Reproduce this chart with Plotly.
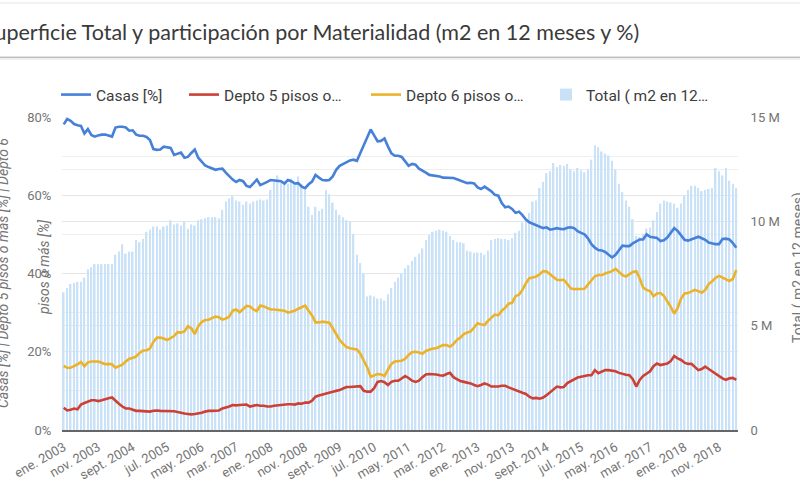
import pandas as pd
import plotly.graph_objects as go

# ---------------- data ----------------
months = [d.strftime("%Y-%m") for d in pd.date_range("2003-01-01", periods=196, freq="MS")]

tick_labels = ["ene. 2003", "nov. 2003", "sept. 2004", "jul. 2005", "may. 2006", "mar. 2007",
               "ene. 2008", "nov. 2008", "sept. 2009", "jul. 2010", "may. 2011", "mar. 2012",
               "ene. 2013", "nov. 2013", "sept. 2014", "jul. 2015", "may. 2016", "mar. 2017",
               "ene. 2018", "nov. 2018"]

casas = [78.1, 79.5, 79.0, 78.2, 77.9, 77.7, 75.8, 76.9, 75.4, 75.0,
         75.3, 75.5, 75.5, 75.3, 75.0, 77.3, 77.5, 77.5, 77.3, 76.5,
         76.6, 75.5, 75.2, 75.2, 74.9, 74.1, 71.8, 71.6, 71.7, 72.4,
         72.3, 72.1, 70.3, 70.7, 70.9, 69.6, 69.8, 70.8, 71.7, 69.6,
         68.5, 67.6, 67.2, 66.8, 66.5, 66.7, 66.8, 65.8, 64.8, 64.0,
         63.4, 63.9, 63.6, 62.4, 62.1, 63.2, 64.0, 62.6, 62.9, 63.4,
         63.9, 63.8, 63.7, 63.6, 63.0, 63.9, 63.6, 63.0, 63.1, 62.2,
         61.8, 62.8, 63.5, 65.2, 64.5, 63.9, 63.8, 63.9, 64.8, 66.5,
         67.5, 68.0, 68.6, 68.9, 69.1, 68.8, 70.8, 72.9, 75.0, 76.8,
         75.3, 73.8, 73.9, 74.5, 72.5, 70.7, 70.1, 70.1, 69.8, 68.5,
         67.5, 68.0, 67.8, 66.8, 66.4, 65.8, 65.2, 65.1, 65.0, 64.8,
         64.5, 64.5, 64.4, 64.4, 64.1, 63.8, 63.5, 63.1, 63.2, 63.0,
         62.0, 61.6, 62.2, 61.6, 61.0, 60.1, 59.9, 58.0, 56.9, 57.1,
         56.5, 55.5, 55.8, 54.9, 53.8, 53.1, 52.7, 52.4, 51.8, 51.6,
         51.8, 51.2, 51.4, 51.6, 51.4, 51.3, 51.7, 51.8, 51.6, 50.8,
         50.4, 50.0, 49.0, 47.5, 46.6, 46.0, 45.9, 45.5, 44.8, 44.1,
         44.8, 46.0, 47.1, 47.0, 47.0, 47.7, 48.3, 48.7, 48.7, 50.0,
         49.4, 49.2, 49.1, 48.3, 48.5, 49.2, 50.5, 51.6, 50.9, 49.8,
         48.6, 48.4, 48.7, 49.1, 49.4, 49.0, 48.6, 47.9, 47.6, 47.5,
         47.5, 48.8, 48.9, 48.7, 47.8, 46.6]

depto5 = [5.7, 5.0, 5.2, 5.5, 5.3, 6.5, 6.9, 7.2, 7.6, 7.6,
          7.4, 7.6, 7.9, 8.1, 8.3, 7.4, 6.7, 6.0, 5.5, 5.5,
          5.1, 4.9, 4.9, 4.8, 4.8, 4.7, 4.9, 5.0, 4.9, 4.9,
          4.9, 4.8, 4.8, 4.6, 4.3, 4.2, 4.1, 4.0, 4.1, 4.2,
          4.4, 4.7, 4.9, 4.9, 5.0, 5.0, 5.5, 5.7, 6.0, 6.4,
          6.3, 6.4, 6.5, 6.5, 6.0, 6.2, 6.4, 6.2, 6.2, 6.0,
          6.0, 6.2, 6.3, 6.4, 6.6, 6.6, 6.6, 6.5, 6.8, 6.7,
          7.0, 7.0, 7.5, 8.5, 8.8, 9.1, 9.4, 9.6, 9.8, 10.0,
          10.2, 10.6, 11.0, 11.0, 11.1, 11.1, 11.2, 10.0, 9.8, 9.8,
          10.7, 12.3, 12.5, 12.2, 11.5, 12.3, 12.6, 12.6, 13.3, 13.8,
          13.3, 12.6, 12.3, 12.6, 13.5, 14.2, 14.3, 14.3, 14.2, 14.0,
          13.9, 14.3, 14.6, 13.5, 12.9, 12.5, 12.3, 12.1, 11.9, 11.5,
          11.2, 11.5, 11.9, 11.6, 11.1, 11.1, 11.1, 11.3, 11.3, 10.9,
          10.5, 10.1, 9.9, 9.5, 9.2, 8.5, 8.1, 8.2, 8.0, 8.3,
          8.9, 9.7, 10.3, 11.1, 10.9, 11.0, 12.0, 12.5, 12.8, 13.4,
          13.6, 13.8, 14.0, 14.0, 15.3, 14.5, 15.0, 15.3, 15.3, 15.2,
          15.0, 14.6, 14.3, 14.1, 14.0, 13.0, 11.1, 12.8, 13.8, 14.5,
          15.0, 16.3, 17.0, 16.6, 16.8, 17.0, 17.6, 18.9, 18.3, 17.9,
          17.2, 16.9, 16.9, 16.0, 15.3, 15.6, 16.2, 15.6, 15.0, 14.3,
          13.6, 13.2, 12.8, 13.2, 13.3, 12.8]

depto6 = [16.4, 15.9, 15.9, 16.3, 16.8, 17.4, 16.3, 17.3, 17.5, 17.5,
          17.5, 17.2, 16.8, 16.9, 16.8, 15.9, 16.2, 16.7, 17.5, 18.2,
          18.4, 18.8, 19.7, 20.3, 20.4, 20.8, 22.5, 23.6, 23.6, 23.4,
          23.0, 23.5, 24.0, 25.0, 24.9, 25.2, 26.5, 26.0, 24.5, 26.5,
          27.6, 28.1, 28.2, 28.6, 29.0, 28.8, 28.2, 28.5, 29.0, 30.5,
          30.8, 30.1, 30.8, 31.7, 31.6, 30.8, 30.4, 31.8, 31.6, 31.2,
          30.8, 30.8, 30.7, 30.7, 30.5, 30.0, 30.2, 30.5, 31.0, 31.3,
          31.8, 30.5, 29.3, 27.5, 27.5, 27.7, 27.6, 27.4, 26.0, 24.3,
          23.0, 22.0, 21.2, 20.9, 20.7, 20.6, 19.5, 17.8, 16.0, 13.6,
          13.9, 14.3, 14.2, 13.8, 15.4, 16.9, 17.5, 17.6, 17.7, 18.2,
          19.2, 19.9, 20.0, 19.8, 19.5, 20.2, 20.6, 20.8, 20.9, 21.4,
          21.7, 21.7, 21.3, 22.0, 23.0, 23.6, 24.5, 24.9, 25.2, 26.2,
          27.3, 27.0, 26.8, 27.9, 28.6, 29.5, 29.3, 30.5, 31.2, 32.3,
          32.5, 34.2, 34.6, 35.8, 37.5, 38.8, 39.0, 39.2, 39.8, 40.6,
          40.5, 39.8, 39.2, 38.4, 38.3, 38.4, 37.3, 36.2, 36.0, 36.0,
          36.0, 36.1, 37.2, 38.3, 39.3, 39.6, 39.6, 40.0, 40.3, 40.6,
          41.2, 40.4, 39.6, 39.2, 39.7, 40.4, 40.6, 38.8, 36.4, 35.8,
          35.5, 34.2, 34.9, 35.0, 34.3, 33.0, 31.5, 29.7, 31.2, 33.6,
          34.9, 35.0, 35.3, 35.8, 35.5, 35.1, 35.8, 37.3, 38.0, 38.9,
          39.4, 39.0, 38.4, 38.1, 38.6, 40.9]

total_m = [6.6, 6.8, 7.0, 7.05, 7.1, 7.1, 7.3, 7.7, 7.8, 7.95,
           7.95, 7.95, 7.95, 7.95, 7.95, 8.4, 8.55, 8.9, 8.45, 8.55,
           8.55, 9.1, 9.0, 9.15, 9.5, 9.6, 9.75, 9.75, 9.6, 9.75,
           9.8, 10.05, 9.85, 9.9, 9.8, 10.0, 9.65, 9.85, 9.8, 10.05,
           10.1, 10.15, 10.2, 10.2, 10.2, 10.15, 10.55, 10.95, 11.1, 11.2,
           11.0, 10.95, 10.8, 10.95, 10.85, 10.95, 11.0, 11.05, 11.0, 11.05,
           11.5, 11.9, 12.2, 11.85, 11.85, 11.8, 12.05, 11.85, 12.15, 11.8,
           11.5, 10.7, 10.3, 10.7, 10.5, 10.6, 11.5, 11.3, 10.9, 10.55,
           10.3, 10.2, 10.05, 10.0, 9.4, 8.4, 8.0, 7.5, 6.4, 6.45,
           6.4, 6.3, 6.3, 6.2, 6.5, 6.8, 7.1, 7.3, 7.5, 7.75,
           7.9, 8.1, 8.3, 8.45, 8.7, 9.1, 9.35, 9.5, 9.55, 9.6,
           9.55, 9.5, 9.3, 9.1, 9.0, 9.0, 8.95, 8.6, 8.55, 8.5,
           8.5, 8.5, 8.4, 8.6, 9.1, 9.15, 9.2, 9.15, 9.15, 9.1,
           9.2, 9.45, 9.55, 9.95, 10.1, 10.4, 10.95, 11.0, 11.6, 11.9,
           12.3, 12.4, 12.8, 12.6, 12.7, 12.65, 12.75, 12.5, 12.4, 12.55,
           12.45, 12.35, 12.5, 12.95, 13.65, 13.55, 13.35, 13.25, 13.15, 12.9,
           12.5, 11.8, 11.4, 11.0, 10.7, 10.1, 9.3, 9.25, 9.4, 9.65,
           9.7, 10.05, 10.45, 10.85, 11.0, 10.95, 10.9, 10.85, 10.65, 10.85,
           11.25, 11.5, 11.7, 11.7, 11.6, 11.45, 11.5, 11.55, 11.6, 12.55,
           12.4, 12.2, 12.55, 11.95, 11.8, 11.6]

# ---------------- layout helpers ----------------
PL, PR, PT, PB = 62, 738, 117, 430
W, H = 800, 500


def px_x(px):
    return (px - PL) / (PR - PL)


def px_y(py):
    return (PB - py) / (PB - PT)


FONT = "Roboto"
GRAY = "#757575"
LEG_FONT = dict(family=FONT, size=15.5, color="#3c3c3c")


def legend_at(px):
    return dict(orientation="h", x=px_x(px), xanchor="left", y=px_y(78), yanchor="top",
                font=LEG_FONT, bgcolor="rgba(0,0,0,0)")


fig = go.Figure()

# lines live on the overlaying axis (drawn above the bars)
fig.add_trace(go.Scatter(
    x=months, y=[v / 100 for v in casas], name="Casas [%]", mode="lines",
    line=dict(color="#4680d8", width=2.6), yaxis="y2", legend="legend",
))
fig.add_trace(go.Scatter(
    x=months, y=[v / 100 for v in depto5], name="Depto 5 pisos o…", mode="lines",
    line=dict(color="#cc4134", width=2.6), yaxis="y2", legend="legend2",
))
fig.add_trace(go.Scatter(
    x=months, y=[v / 100 for v in depto6], name="Depto 6 pisos o…", mode="lines",
    line=dict(color="#ecb328", width=2.6), yaxis="y2", legend="legend3",
))
fig.add_trace(go.Bar(
    x=months, y=[v * 1e6 for v in total_m], name="Total ( m2 en 12…",
    marker=dict(color="#c9e2f7", line=dict(width=0)), yaxis="y", legend="legend4",
))

fig.update_layout(
    width=W, height=H,
    margin=dict(l=PL, r=W - PR, t=PT, b=H - PB),
    paper_bgcolor="white", plot_bgcolor="white",
    font=dict(family=FONT, size=13, color=GRAY),
    bargap=0.52,
    showlegend=True,
    legend=legend_at(56),
    legend2=legend_at(184),
    legend3=legend_at(366),
    legend4=legend_at(546),
    xaxis=dict(
        type="category", range=[-0.5, len(months) - 0.5],
        tickvals=months[::10], ticktext=tick_labels, tickangle=-30,
        ticks="outside", ticklen=3, tickcolor="rgba(0,0,0,0)",
        tickfont=dict(family=FONT, size=13, color=GRAY),
        showgrid=False, showline=True, linecolor="#666666", linewidth=1.5,
        zeroline=False,
    ),
    # bar axis (right side)
    yaxis=dict(
        side="right", range=[0, 15e6],
        tickvals=[0, 5e6, 10e6, 15e6], ticktext=["0", "5 M", "10 M", "15 M"],
        showgrid=True, gridcolor="#e6e6e6", gridwidth=1,
        minor=dict(dtick=2.5e6, tick0=0, showgrid=True, gridcolor="#eeeeee"),
        ticks="outside", ticklen=9, tickcolor="rgba(0,0,0,0)",
        tickfont=dict(family=FONT, size=13, color=GRAY),
        zeroline=False, showline=False,
    ),
    # percentage axis (left side)
    yaxis2=dict(
        overlaying="y", side="left", range=[0, 0.8], tickvals=[0, 0.2, 0.4, 0.6, 0.8],
        ticktext=["0%", "20%", "40%", "60%", "80%"],
        showgrid=True, gridcolor="#e6e6e6", gridwidth=1,
        minor=dict(dtick=0.1, tick0=0, showgrid=True, gridcolor="#eeeeee"),
        ticks="outside", ticklen=7, tickcolor="rgba(0,0,0,0)",
        tickfont=dict(family=FONT, size=13, color=GRAY),
        zeroline=False, showline=False,
    ),
)

# header card
fig.add_shape(type="rect", xref="paper", yref="paper",
              x0=px_x(-5), x1=px_x(805), y0=px_y(57), y1=px_y(3),
              line=dict(color="#e4e4e4", width=1), fillcolor="white", layer="below")
fig.add_shape(type="line", xref="paper", yref="paper",
              x0=px_x(-5), x1=px_x(805), y0=px_y(57.5), y1=px_y(57.5),
              line=dict(color="#bdbdbd", width=1.5))
fig.add_shape(type="line", xref="paper", yref="paper",
              x0=px_x(-5), x1=px_x(805), y0=px_y(59), y1=px_y(59),
              line=dict(color="#ececec", width=1.5))

# title (left part cut off by the frame edge, as in the reference)
fig.add_annotation(text="Superficie Total y participación por Materialidad (m2 en 12 meses y %)",
                   xref="paper", yref="paper", x=px_x(641), y=px_y(32),
                   xanchor="right", yanchor="middle", showarrow=False,
                   font=dict(family="Lato", size=21.5, color="#3a3a3a"))

# left axis title (two lines)
fig.add_annotation(text="<i>Casas [%] | Depto 5 pisos o más [%] | Depto 6</i>",
                   xref="paper", yref="paper", x=px_x(3), y=px_y(273),
                   xanchor="center", yanchor="middle", textangle=-90, showarrow=False,
                   font=dict(family=FONT, size=14, color=GRAY))
fig.add_annotation(text="<i>pisos o más [%]</i>",
                   xref="paper", yref="paper", x=px_x(44), y=px_y(267),
                   xanchor="center", yanchor="middle", textangle=-90, showarrow=False,
                   font=dict(family=FONT, size=14, color=GRAY))
# right axis title
fig.add_annotation(text="Total ( m2 en 12 meses)",
                   xref="paper", yref="paper", x=px_x(798), y=px_y(268),
                   xanchor="center", yanchor="middle", textangle=-90, showarrow=False,
                   font=dict(family=FONT, size=14, color=GRAY))

fig.write_html("out.html", config={"displayModeBar": False},
               post_script="document.body.style.margin='0';")
